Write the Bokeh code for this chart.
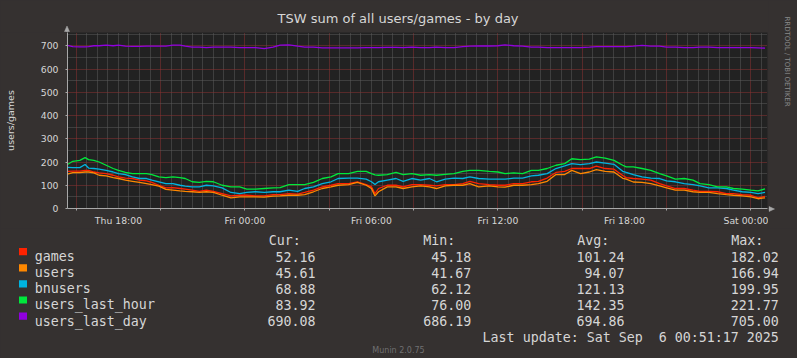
import pandas as pd
from math import pi
from bokeh.plotting import figure
from bokeh.layouts import row, column
from bokeh.models import FixedTicker, Range1d, DatetimeTickFormatter
from bokeh.core.properties import value
from bokeh.embed import file_html
from bokeh.resources import INLINE

# ---------------- data ----------------
times = [
    "2025-09-04 15:35", "2025-09-04 15:50", "2025-09-04 16:10", "2025-09-04 16:25", "2025-09-04 16:35",
    "2025-09-04 16:50", "2025-09-04 17:05", "2025-09-04 17:25", "2025-09-04 17:45", "2025-09-04 18:00",
    "2025-09-04 18:20", "2025-09-04 18:40", "2025-09-04 19:00", "2025-09-04 19:20", "2025-09-04 19:35",
    "2025-09-04 19:55", "2025-09-04 20:15", "2025-09-04 20:35", "2025-09-04 20:55", "2025-09-04 21:10",
    "2025-09-04 21:30", "2025-09-04 21:50", "2025-09-04 22:10", "2025-09-04 22:30", "2025-09-04 22:55",
    "2025-09-04 23:20", "2025-09-04 23:45", "2025-09-05 00:05", "2025-09-05 00:30", "2025-09-05 00:55",
    "2025-09-05 01:20", "2025-09-05 01:40", "2025-09-05 02:05", "2025-09-05 02:30", "2025-09-05 02:50",
    "2025-09-05 03:15", "2025-09-05 03:40", "2025-09-05 04:05", "2025-09-05 04:25", "2025-09-05 04:55",
    "2025-09-05 05:20", "2025-09-05 05:45", "2025-09-05 06:00", "2025-09-05 06:10", "2025-09-05 06:20",
    "2025-09-05 06:45", "2025-09-05 07:10", "2025-09-05 07:30", "2025-09-05 07:55", "2025-09-05 08:20",
    "2025-09-05 08:45", "2025-09-05 09:05", "2025-09-05 09:30", "2025-09-05 09:55", "2025-09-05 10:20",
    "2025-09-05 10:40", "2025-09-05 11:05", "2025-09-05 11:35", "2025-09-05 12:00", "2025-09-05 12:20",
    "2025-09-05 12:45", "2025-09-05 13:10", "2025-09-05 13:35", "2025-09-05 13:55", "2025-09-05 14:20",
    "2025-09-05 14:45", "2025-09-05 15:10", "2025-09-05 15:30", "2025-09-05 15:55", "2025-09-05 16:20",
    "2025-09-05 16:40", "2025-09-05 17:05", "2025-09-05 17:30", "2025-09-05 17:55", "2025-09-05 18:05",
    "2025-09-05 18:25", "2025-09-05 18:50", "2025-09-05 19:15", "2025-09-05 19:40", "2025-09-05 20:00",
    "2025-09-05 20:25", "2025-09-05 20:50", "2025-09-05 21:15", "2025-09-05 21:35", "2025-09-05 22:00",
    "2025-09-05 22:25", "2025-09-05 22:50", "2025-09-05 23:10", "2025-09-05 23:35", "2025-09-06 00:00",
    "2025-09-06 00:20", "2025-09-06 00:40",
]

games = [160, 161, 161, 164, 164, 157, 153, 150, 143, 136, 131, 129, 122, 119, 112, 100, 89, 90, 86, 83,
         79, 74, 79, 74, 64, 54, 57, 57, 54, 54, 60, 60, 64, 62, 69, 79, 93, 100, 107, 107,
         115, 103, 93, 64, 86, 100, 100, 93, 103, 103, 100, 97, 103, 103, 107, 117, 107, 103, 100, 100,
         107, 107, 115, 117, 131, 155, 160, 172, 172, 172, 182, 172, 169, 142, 133, 129, 126, 122, 107, 97,
         86, 86, 79, 74, 74, 72, 64, 64, 60, 57, 46, 52]

users = [148, 154, 154, 157, 157, 153, 143, 140, 133, 129, 122, 117, 112, 107, 103, 96, 82, 79, 76, 74,
         72, 69, 72, 69, 57, 46, 50, 50, 50, 49, 53, 54, 57, 57, 60, 72, 86, 93, 100, 103,
         112, 100, 86, 54, 72, 93, 93, 86, 93, 97, 93, 86, 97, 100, 100, 107, 93, 97, 93, 92,
         100, 100, 103, 107, 117, 146, 146, 164, 150, 157, 167, 160, 157, 130, 126, 114, 112, 107, 97, 89,
         79, 79, 72, 69, 69, 64, 60, 57, 54, 50, 42, 46]

bnusers = [177, 176, 176, 189, 174, 172, 169, 164, 157, 150, 146, 136, 129, 129, 122, 115, 107, 107, 100, 96,
           93, 93, 100, 97, 89, 69, 64, 69, 72, 69, 72, 72, 79, 74, 86, 93, 107, 115, 129, 131,
           131, 126, 115, 103, 115, 122, 129, 117, 129, 122, 129, 115, 126, 131, 129, 136, 129, 126, 126, 126,
           131, 131, 140, 143, 150, 172, 183, 193, 189, 193, 200, 195, 190, 160, 155, 146, 136, 131, 129, 119,
           115, 107, 103, 97, 89, 89, 86, 79, 72, 69, 64, 69]

users_last_hour = [189, 203, 207, 219, 210, 207, 200, 186, 172, 164, 155, 150, 150, 150, 146, 136, 133, 136, 133, 129,
                   115, 112, 117, 115, 100, 93, 93, 83, 83, 86, 89, 90, 103, 103, 103, 112, 129, 136, 150, 150,
                   160, 160, 150, 145, 143, 146, 155, 146, 150, 143, 146, 143, 147, 150, 160, 164, 164, 160, 157, 150,
                   153, 150, 164, 164, 172, 186, 193, 214, 210, 212, 222, 217, 207, 186, 179, 179, 172, 164, 150, 140,
                   126, 129, 122, 107, 103, 93, 93, 86, 83, 79, 76, 84]

users_last_day = [702, 696, 695, 695, 696, 700, 700, 703, 700, 703, 698, 697, 697, 698, 698, 698, 698, 703, 703, 698,
                  694, 694, 692, 694, 694, 694, 692, 692, 692, 688, 694, 703, 704, 698, 694, 694, 691, 691, 691, 691,
                  691, 692, 692, 692, 692, 693, 693, 692, 694, 692, 692, 694, 692, 692, 696, 698, 699, 699, 700, 704,
                  700, 698, 694, 694, 692, 692, 692, 692, 692, 694, 696, 696, 696, 696, 696, 698, 702, 698, 698, 694,
                  694, 692, 692, 694, 694, 692, 692, 692, 692, 692, 691, 690]

series_names = ["games", "users", "bnusers", "users_last_hour", "users_last_day"]
series_values = [games, users, bnusers, users_last_hour, users_last_day]
series_colors = ["#ff2200", "#ff8800", "#00b4e0", "#00e83c", "#9000e0"]

cur_vals = ["52.16", "45.61", "68.88", "83.92", "690.08"]
min_vals = ["45.18", "41.67", "62.12", "76.00", "686.19"]
avg_vals = ["101.24", "94.07", "121.13", "142.35", "694.86"]
max_vals = ["182.02", "166.94", "199.95", "221.77", "705.00"]
column_headers = ["Cur:", "Min:", "Avg:", "Max:"]

title_text = "TSW sum of all users/games - by day"
y_label_text = "users/games"
last_update_text = "Last update: Sat Sep  6 00:51:17 2025"
credit_text = "RRDTOOL / TOBI OETIKER"
version_text = "Munin 2.0.75"

x_start = "2025-09-04 15:35"
x_end = "2025-09-06 00:47"
y_max = 757
y_major_ticks = [0, 100, 200, 300, 400, 500, 600, 700]
y_minor_ticks = [50, 150, 250, 350, 450, 550, 650, 750]

# ---------------- style ----------------
OUTER_BG = "#353130"
PLOT_BG = "#222222"
TEXT = "#d6d6d6"
AXIS = "#a8a8a8"
MAJOR_GRID = "#8e3232"
MINOR_GRID = "#5c5c5c"
SANS = "DejaVu Sans"
MONO = "DejaVu Sans Mono"

PAGE_W, PAGE_H = 797, 358
FRAME_L, FRAME_R = 67, 767     # page x of the plot frame
TOP_W = 768                    # width of header + chart column
HEADER_H = 32                  # page y where the plot frame starts
FRAME_BOTTOM = 208             # page y of the x axis
MAIN_BOTTOM_BORDER = 20
MAIN_H = FRAME_BOTTOM + MAIN_BOTTOM_BORDER - HEADER_H
LEGEND_TOP = HEADER_H + MAIN_H


def blank(w, h, x0, x1, y0, y1):
    """Helper canvas whose data coordinates equal page pixels."""
    f = figure(width=w, height=h, x_range=Range1d(x0, x1), y_range=Range1d(y1, y0),
               output_backend="svg", toolbar_location=None, title=None,
               x_axis_location=None, y_axis_location=None, min_border=0, frame_align=False)
    f.grid.visible = False
    f.background_fill_color = OUTER_BG
    f.border_fill_color = OUTER_BG
    f.outline_line_color = None
    return f


def put(f, texts, xs, ys, size, color=TEXT, align="left", baseline="alphabetic", font=SANS, angle=0.0):
    f.text(x=xs, y=ys, text=texts, text_font=value(font), text_font_size=value(f"{size}px"),
           text_color=color, text_align=align, text_baseline=baseline, angle=angle)


# ---------------- main chart ----------------
x = pd.to_datetime(times)
t0 = pd.Timestamp(x_start)
t1 = pd.Timestamp(x_end)


def ms(idx):
    return [t.value / 1e6 for t in idx]


label_ticks = ms(pd.date_range("2025-09-04 18:00", t1, freq="6h"))
major_grid = ms(pd.date_range("2025-09-04 16:00", t1, freq="4h"))
minor_grid = [v for v in ms(pd.date_range("2025-09-04 16:00", t1, freq="30min")) if v not in major_grid]

p = figure(width=TOP_W, height=MAIN_H, x_axis_type="datetime",
           x_range=Range1d(t0, t1), y_range=Range1d(0, y_max),
           output_backend="svg", toolbar_location=None, title=None,
           min_border_left=FRAME_L, min_border_right=TOP_W - FRAME_R, min_border_top=0,
           min_border_bottom=MAIN_BOTTOM_BORDER, frame_align=False)
p.background_fill_color = PLOT_BG
p.border_fill_color = OUTER_BG
p.outline_line_color = None

p.xgrid.ticker = FixedTicker(ticks=major_grid, minor_ticks=minor_grid)
p.ygrid.ticker = FixedTicker(ticks=y_major_ticks, minor_ticks=y_minor_ticks)
for g in (p.xgrid, p.ygrid):
    g.grid_line_color = MAJOR_GRID
    g.grid_line_dash = "1 1"
    g.grid_line_width = 1
    g.minor_grid_line_color = MINOR_GRID
    g.minor_grid_line_dash = "1 1"
    g.minor_grid_line_width = 1

p.xaxis.ticker = FixedTicker(ticks=label_ticks, minor_ticks=major_grid)
fmt = "%a %H:%M"
p.xaxis.formatter = DatetimeTickFormatter(microseconds=fmt, milliseconds=fmt, seconds=fmt, minsec=fmt,
                                          minutes=fmt, hourmin=fmt, hours=fmt, days=fmt, months=fmt, years=fmt)
p.yaxis.ticker = FixedTicker(ticks=y_major_ticks)
for ax in (p.xaxis, p.yaxis):
    ax.axis_line_color = AXIS
    ax.axis_line_width = 1
    ax.major_tick_line_color = AXIS
    ax.minor_tick_line_color = AXIS
    ax.major_label_text_color = TEXT
    ax.major_label_text_font = SANS
    ax.major_label_text_font_size = "9.3px"
    ax.major_tick_in = 0
    ax.minor_tick_in = 0
p.xaxis.major_tick_out = 0
p.xaxis.minor_tick_out = 2
p.xaxis.major_label_standoff = 4
p.yaxis.major_tick_out = 2
p.yaxis.minor_tick_out = 0
p.yaxis.major_label_standoff = 7
p.yaxis.axis_label = y_label_text
p.yaxis.axis_label_text_font = SANS
p.yaxis.axis_label_text_font_size = "9.5px"
p.yaxis.axis_label_text_font_style = "normal"
p.yaxis.axis_label_text_color = TEXT
p.yaxis.axis_label_standoff = 22

for name, vals, col in zip(series_names, series_values, series_colors):
    p.line(x, vals, line_color=col, line_width=1.3)

# ---------------- header (title + y axis arrow head) ----------------
head = blank(TOP_W, HEADER_H, 0, TOP_W, 0, HEADER_H)
put(head, [title_text], [397.5], [18.3], 13, align="center")
head.segment(x0=[FRAME_L - 0.5], y0=[29], x1=[FRAME_L - 0.5], y1=[HEADER_H], line_color=AXIS, line_width=1)
head.patch(x=[FRAME_L - 3, FRAME_L + 2, FRAME_L - 0.5], y=[31, 31, 25.5], fill_color=AXIS, line_color=AXIS,
           line_width=0.5)

# ---------------- right strip (credit + x axis arrow head) ----------------
cred = blank(PAGE_W - TOP_W, LEGEND_TOP, TOP_W, PAGE_W, 0, LEGEND_TOP)
put(cred, [credit_text], [786.5], [61], 7, color="#8a8a8a", align="center", baseline="middle", angle=-pi / 2)
cred.segment(x0=[TOP_W], y0=[FRAME_BOTTOM + 0.5], x1=[769], y1=[FRAME_BOTTOM + 0.5], line_color=AXIS)
cred.patch(x=[768.5, 768.5, 774], y=[FRAME_BOTTOM - 2, FRAME_BOTTOM + 3, FRAME_BOTTOM + 0.5], fill_color=AXIS,
           line_color=AXIS, line_width=0.5)

# ---------------- legend ----------------
leg = blank(PAGE_W, PAGE_H - LEGEND_TOP, 0, PAGE_W, LEGEND_TOP, PAGE_H)
LEG = 13.3
base0 = 240.0
pitch = 16.1
header_x = [268.3, 422.7, 576.7, 730.7]
value_right = [315, 470.7, 624, 778.3]
row_base = [base0 + pitch * (i + 1) for i in range(len(series_names))]

put(leg, column_headers, header_x, [base0] * 4, LEG, font=MONO)
leg.quad(left=[18.5] * 5, right=[26.5] * 5, top=[b - 8.5 for b in row_base],
         bottom=[b - 1.3 for b in row_base], fill_color=series_colors, line_color=None)
put(leg, series_names, [34.3] * 5, row_base, LEG, font=MONO)
for vx, vals in zip(value_right, (cur_vals, min_vals, avg_vals, max_vals)):
    put(leg, vals, [vx] * 5, row_base, LEG, font=MONO, align="right")
# keep the double space visible (SVG collapses plain runs of spaces)
put(leg, [last_update_text.replace("  ", " \u00a0")], [778.3], [base0 + pitch * 6], LEG, font=MONO, align="right")
put(leg, [version_text], [398], [350], 8, color="#707070", align="center")

layout = column(row(column(head, p), cred), leg)

html = file_html(layout, INLINE)
html = html.replace("</head>", "<style>html,body{background:%s;}</style></head>" % OUTER_BG, 1)
open("out.html", "w").write(html)
